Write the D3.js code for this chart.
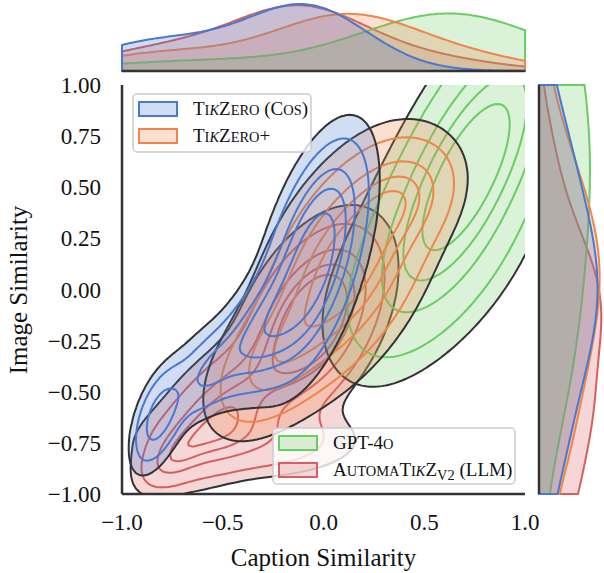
<!DOCTYPE html>
<html>
<head>
<meta charset="utf-8">
<script src="https://cdn.jsdelivr.net/npm/d3@7"></script>
<style>
  body { margin: 0; background: #fff; }
  svg { display: block; font-family: "Liberation Serif", "Times New Roman", serif; }
</style>
</head>
<body>
<svg id="chart" width="604" height="573"></svg>
<script>
// legend order (drawn in reverse, first one ends on top)
const seriesKeys = ["tikzeroCos", "tikzeroPlus", "gpt4o", "automatikz"];
const seriesColors = ["#4878d0", "#ee854a", "#6acc64", "#d65f5f"];

// joint KDE shape of each series, as gaussian blobs
// [meanCaption, meanImage, sdCaption, sdImage, corr, weight]
const tikzeroCos = [
  [-0.05, 0.15, 0.14, 0.3, 0.55, 0.58],
  [-0.3, -0.2, 0.14, 0.18, 0.6, 0.18],
  [-0.56, -0.4, 0.1, 0.13, 0.6, 0.05],
  [-0.82, -0.62, 0.07, 0.13, 0.5, 0.05],
  [-0.75, -0.55, 0.12, 0.22, 0.75, 0.035]
];
const tikzeroPlus = [
  [0.12, 0.12, 0.22, 0.3, 0.5, 0.65],
  [0.4, 0.45, 0.15, 0.15, 0.3, 0.1],
  [-0.25, -0.35, 0.18, 0.2, 0.5, 0.15]
];
const gpt4o = [
  [0.73, 0.6, 0.25, 0.4, 0.7, 0.85],
  [0.5, 0.1, 0.3, 0.3, 0.5, 0.15]
];
const automatikz = [
  [-0.05, -0.15, 0.18, 0.24, 0.45, 0.5],
  [-0.5, -0.6, 0.18, 0.18, 0.5, 0.2],
  [-0.35, -0.74, 0.3, 0.1, 0.0, 0.1],
  [-0.75, -0.83, 0.1, 0.09, 0.5, 0.03]
];
const seriesComps = [tikzeroCos, tikzeroPlus, gpt4o, automatikz];

// marginal KDEs: [mean, sd, weight]
const captionMarg = [
  [[-0.08, 0.3, 0.640], [-0.8, 0.35, 0.356]],
  [[0.12, 0.38, 0.721], [-0.8, 0.35, 0.202], [0.8, 0.3, 0.081]],
  [[0.63, 0.45, 0.869], [-0.6, 0.5, 0.169]],
  [[-0.12, 0.33, 0.671], [-0.8, 0.35, 0.249], [0.5, 0.35, 0.142]]
];
const imageMarg = [
  [[0.0, 0.5, 0.777], [-0.85, 0.35, 0.114], [0.8, 0.35, 0.114]],
  [[0.08, 0.55, 0.899], [-0.8, 0.35, 0.134]],
  [[0.65, 0.8, 1.09], [-0.4, 0.45, 0.147]],
  [[-0.08, 0.4, 0.654], [-0.95, 0.35, 0.324], [0.7, 0.25, 0.048], [-0.6, 0.2, 0.044]]
];

// iso-proportion levels (share of mass below the level)
const fillLevels = [0.05];
const lineLevels = [0.12, 0.32, 0.52, 0.72];

const xTicks = [-1, -0.5, 0, 0.5, 1];
const yTicks = [-1, -0.75, -0.5, -0.25, 0, 0.25, 0.5, 0.75, 1];

const svg = d3.select("#chart");
const x = d3.scaleLinear().domain([-1, 1]).range([122, 525]);
const y = d3.scaleLinear().domain([-1, 1]).range([494, 85]);

function dens2(comps, px, py) {
  let s = 0;
  for (const [mx, my, sx, sy, r, w] of comps) {
    const dx = (px - mx) / sx, dy = (py - my) / sy, q = 1 - r * r;
    s += w / (2 * Math.PI * sx * sy * Math.sqrt(q)) * Math.exp(-(dx * dx - 2 * r * dx * dy + dy * dy) / (2 * q));
  }
  return s;
}
function dens1(comps, v) {
  let s = 0;
  for (const [m, sd, w] of comps) {
    const d = (v - m) / sd;
    s += w / (Math.sqrt(2 * Math.PI) * sd) * Math.exp(-d * d / 2);
  }
  return s;
}

// grid for contours
const n = 170, g0 = -1.7, step = 3.4 / n;
const proj = d3.geoTransform({
  point(px, py) { this.stream.point(x(g0 + px * step), y(g0 + py * step)); }
});
const path = d3.geoPath(proj);

function levelFor(values, p) {
  const sorted = Float64Array.from(values).sort();
  const total = d3.sum(sorted);
  let cum = 0;
  for (let k = 0; k < sorted.length; k++) {
    cum += sorted[k];
    if (cum >= p * total) return sorted[k];
  }
  return sorted[sorted.length - 1];
}

svg.append("clipPath").attr("id", "plotClip")
  .append("rect").attr("x", 122).attr("y", 85).attr("width", 403).attr("height", 409);

const plot = svg.append("g").attr("clip-path", "url(#plotClip)");

const order = [3, 2, 1, 0];
order.forEach(si => {
  const comps = seriesComps[si];
  const values = new Float64Array(n * n);
  for (let j = 0; j < n; j++) {
    for (let i = 0; i < n; i++) {
      values[j * n + i] = dens2(comps, g0 + (i + 0.5) * step, g0 + (j + 0.5) * step);
    }
  }
  const contours = d3.contours().size([n, n]);
  const g = plot.append("g");
  fillLevels.forEach(p => {
    g.append("path")
      .datum(contours.contour(values, levelFor(values, p)))
      .attr("d", path)
      .attr("fill", seriesColors[si]).attr("fill-opacity", 0.25)
      .attr("stroke", "#333").attr("stroke-width", 2);
  });
  lineLevels.forEach(p => {
    g.append("path")
      .datum(contours.contour(values, levelFor(values, p)))
      .attr("d", path)
      .attr("fill", "none")
      .attr("stroke", seriesColors[si]).attr("stroke-width", 2);
  });
});

// marginals
const margGrid = d3.range(-1, 1.0001, 0.01);
const topY = d3.scaleLinear().domain([0, 1]).range([71, -3]);
const rightX = d3.scaleLinear().domain([0, 1]).range([539, 631]);

order.forEach(si => {
  const topArea = d3.area().x(v => x(v)).y0(71).y1(v => topY(dens1(captionMarg[si], v)));
  svg.append("path").attr("d", topArea(margGrid) + "Z")
    .attr("fill", seriesColors[si]).attr("fill-opacity", 0.25)
    .attr("stroke", seriesColors[si]).attr("stroke-width", 2);
  const rightArea = d3.area().y(v => y(v)).x0(539).x1(v => rightX(dens1(imageMarg[si], v)));
  svg.append("path").attr("d", rightArea(margGrid) + "Z")
    .attr("fill", seriesColors[si]).attr("fill-opacity", 0.25)
    .attr("stroke", seriesColors[si]).attr("stroke-width", 2);
});

// spines
const spineColor = "#333", spineWidth = 2.5;
[[122, 122, 85, 494], [122, 525, 494, 494], [122, 525, 71, 71], [539, 539, 85, 494]].forEach(([x1, x2, y1, y2]) => {
  svg.append("line").attr("x1", x1).attr("x2", x2).attr("y1", y1).attr("y2", y2)
    .attr("stroke", spineColor).attr("stroke-width", spineWidth);
});

// ticks
const fmtX = v => d3.format(".1f")(v).replace("-", "\u2212");
const fmtY = v => d3.format(".2f")(v).replace("-", "\u2212");
svg.append("g").selectAll("text").data(xTicks).join("text")
  .attr("x", d => x(d)).attr("y", 530).attr("text-anchor", "middle")
  .attr("font-size", 23).attr("fill", "#111").text(fmtX);
svg.append("g").selectAll("text").data(yTicks).join("text")
  .attr("x", 101).attr("y", d => y(d) + 8).attr("text-anchor", "end")
  .attr("font-size", 23).attr("fill", "#111").text(fmtY);

svg.append("text").attr("x", 323.5).attr("y", 566).attr("text-anchor", "middle")
  .attr("font-size", 25).attr("fill", "#111").text("Caption Similarity");
svg.append("text").attr("transform", "translate(27,290) rotate(-90)").attr("text-anchor", "middle")
  .attr("font-size", 25).attr("fill", "#111").text("Image Similarity");

// legends (small caps done by hand)
function addParts(text, parts) {
  parts.forEach(([t, kind]) => {
    const s = text.append("tspan").text(t);
    if (kind === "sc" || kind === "scit" || kind === "sub") s.attr("font-size", "0.76em");
    if (kind === "scit") s.attr("font-style", "italic");
    if (kind === "sub") s.attr("baseline-shift", "-0.3em");
  });
}
const tikzParts = [["T", ""], ["I", "sc"], ["K", "scit"], ["Z", ""], ["ERO", "sc"]];
const legendLabels = [
  tikzParts.concat([[" (C", ""], ["OS", "sc"], [")", ""]]),
  tikzParts.concat([["+", ""]]),
  [["GPT-4", ""], ["O", "sc"]],
  [["A", ""], ["UTOMA", "sc"], ["T", ""], ["I", "sc"], ["K", "scit"], ["Z", ""], ["V2", "sub"]]
];

function legend(box, idxs) {
  const g = svg.append("g");
  g.append("rect").attr("x", box[0]).attr("y", box[1]).attr("width", box[2]).attr("height", box[3])
    .attr("rx", 4).attr("fill", "#fff").attr("fill-opacity", 0.8)
    .attr("stroke", "#ccc").attr("stroke-width", 1.5);
  idxs.forEach((si, k) => {
    const ry = box[1] + 8 + k * 27;
    g.append("rect").attr("x", box[0] + 6).attr("y", ry).attr("width", 38).attr("height", 14)
      .attr("fill", seriesColors[si]).attr("fill-opacity", 0.25)
      .attr("stroke", seriesColors[si]).attr("stroke-width", 2);
    const t = g.append("text").attr("x", box[0] + 60).attr("y", ry + 13)
      .attr("font-size", 19).attr("fill", "#111");
    addParts(t, legendLabels[si]);
    if (si === 3) t.append("tspan").text(" (LLM)");
  });
}
legend([133, 94, 178, 58], [0, 1]);
legend([273, 428, 242, 56], [2, 3]);
</script>
</body>
</html>
